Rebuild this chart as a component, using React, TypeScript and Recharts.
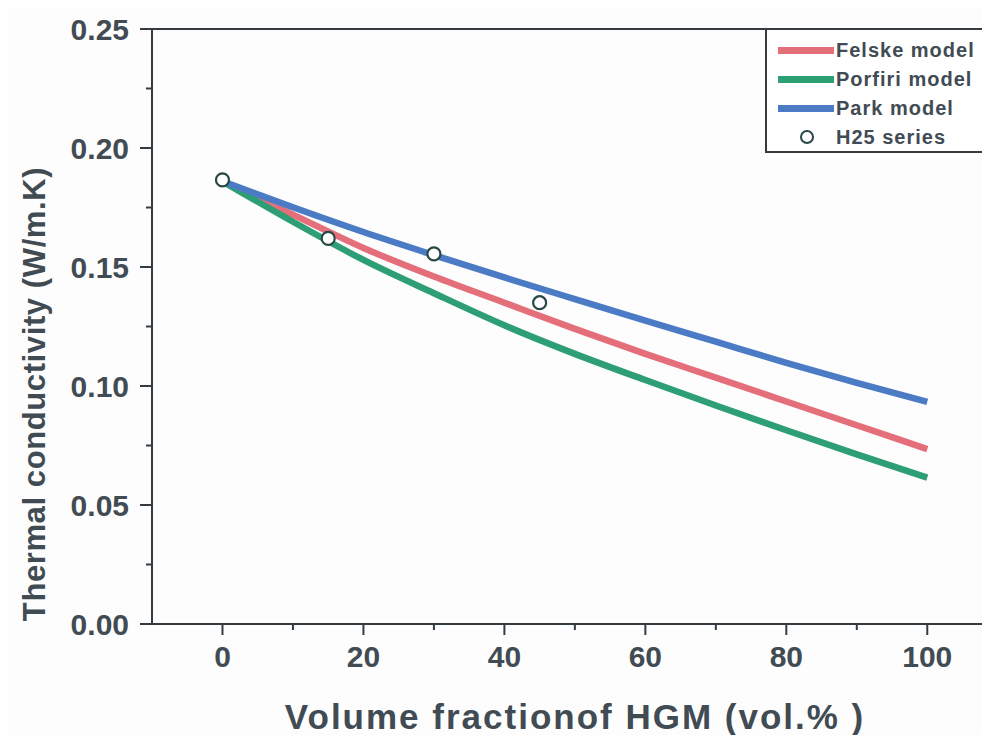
import { ComposedChart, Line, Scatter, XAxis, YAxis, ReferenceLine, Label } from "recharts"

// volume fraction of HGM (vol.%)
const fractions = [0, 10, 20, 30, 40, 50, 60, 70, 80, 90, 100]
const felske = [0.186, 0.172, 0.158, 0.146, 0.135, 0.124, 0.1135, 0.1035, 0.0935, 0.0835, 0.0735]
const porfiri = [0.186, 0.169, 0.153, 0.139, 0.1255, 0.1135, 0.1025, 0.0918, 0.0814, 0.0713, 0.0615]
const park = [0.186, 0.1751, 0.1647, 0.155, 0.1456, 0.1365, 0.1275, 0.1186, 0.1097, 0.1013, 0.0933]

// measured points
const h25Fractions = [0, 15, 30, 45]
const h25Values = [0.1866, 0.162, 0.1555, 0.135]

const xTicks = [0, 10, 20, 30, 40, 50, 60, 70, 80, 90, 100]
const xMajor = [0, 20, 40, 60, 80, 100]
const yTicks = [0, 0.025, 0.05, 0.075, 0.1, 0.125, 0.15, 0.175, 0.2, 0.225, 0.25]
const yMajor = [0, 0.05, 0.1, 0.15, 0.2, 0.25]

const series = [
  { key: "felske", name: "Felske model", color: "#e46f7b" },
  { key: "porfiri", name: "Porfiri model", color: "#2e9f74" },
  { key: "park", name: "Park model", color: "#4a7bc4" },
]

const modelRows = fractions.map((x, i) => ({ x, felske: felske[i], porfiri: porfiri[i], park: park[i] }))
const h25Rows = h25Fractions.map((x, i) => ({ x, h25: h25Values[i] }))

const axisColor = "#343c42"
const textColor = "#414b53"
const font = "'Liberation Sans', Arial, sans-serif"

const isMajor = (list: number[], v: number) => list.some((m) => Math.abs(m - v) < 1e-6)

function XTick({ x, y, payload }: any) {
  const major = isMajor(xMajor, payload.value)
  return (
    <g>
      <line x1={x} x2={x} y1={y} y2={y + (major ? 11 : 6)} stroke={axisColor} strokeWidth={2} />
      {major && (
        <text x={x} y={y + 32} textAnchor="middle" dominantBaseline="central" fontSize={30} fontWeight="bold" fill={textColor} fontFamily={font}>
          {payload.value}
        </text>
      )}
    </g>
  )
}

function YTick({ x, y, payload }: any) {
  const major = isMajor(yMajor, payload.value)
  return (
    <g>
      <line x1={x} x2={x - (major ? 12 : 6)} y1={y} y2={y} stroke={axisColor} strokeWidth={2} />
      {major && (
        <text x={x - 23} y={y} textAnchor="end" dominantBaseline="central" fontSize={30} fontWeight="bold" fill={textColor} fontFamily={font}>
          {payload.value.toFixed(2)}
        </text>
      )}
    </g>
  )
}

function Marker({ cx, cy }: any) {
  return <circle cx={cx} cy={cy} r={6.5} fill="#ffffff" stroke="#284844" strokeWidth={2.2} />
}

function ChartLegend() {
  return (
    <div
      style={{
        position: "absolute",
        left: 757,
        top: 20,
        width: 223,
        height: 121,
        border: `2px solid ${axisColor}`,
        borderRight: "none",
        background: "#fff",
        fontFamily: font,
        fontWeight: "bold",
        fontSize: 20,
        letterSpacing: 1,
        color: textColor,
        whiteSpace: "nowrap",
      }}
    >
      {series.map((s, i) => (
        <div key={s.key} style={{ position: "absolute", top: 8 + i * 29, left: 11, height: 24, display: "flex", alignItems: "center" }}>
          <div style={{ width: 56, height: 7, background: s.color, marginRight: 2 }} />
          <span>{s.name}</span>
        </div>
      ))}
      <div style={{ position: "absolute", top: 95, left: 11, height: 24, display: "flex", alignItems: "center" }}>
        <svg width={58} height={16}>
          <circle cx={29} cy={8} r={6} fill="#fff" stroke="#284844" strokeWidth={2} />
        </svg>
        <span>H25 series</span>
      </div>
    </div>
  )
}

export default function App() {
  return (
    <div style={{ position: "relative", width: 982, height: 727, overflow: "hidden", background: "#fdfdfd" }}>
      <ComposedChart width={982} height={727} data={modelRows} margin={{ top: 21, right: 0, left: 0, bottom: 0 }}>
        <XAxis
          dataKey="x"
          type="number"
          domain={[-10, 108.9]}
          allowDataOverflow
          ticks={xTicks}
          tick={<XTick />}
          tickLine={false}
          tickSize={0}
          tickMargin={0}
          height={111}
          axisLine={{ stroke: axisColor, strokeWidth: 2 }}
          interval={0}
        >
          <Label
            content={({ viewBox }: any) => (
              <text
                x={viewBox.x + viewBox.width / 2 + 4}
                y={viewBox.y + 105}
                textAnchor="middle"
                fontSize={35}
                fontWeight="bold"
                letterSpacing={2}
                fill={textColor}
                fontFamily={font}
              >
                Volume fractionof HGM (vol.% )
              </text>
            )}
          />
        </XAxis>
        <YAxis
          type="number"
          domain={[0, 0.25]}
          ticks={yTicks}
          tick={<YTick />}
          tickLine={false}
          tickSize={0}
          tickMargin={0}
          width={144}
          axisLine={{ stroke: axisColor, strokeWidth: 2 }}
          interval={0}
        >
          <Label
            content={({ viewBox }: any) => {
              const cx = viewBox.x + 26
              const cy = 386
              return (
                <text
                  x={cx}
                  y={cy}
                  transform={`rotate(-90 ${cx} ${cy})`}
                  textAnchor="middle"
                  dominantBaseline="central"
                  fontSize={31}
                  fontWeight="bold"
                  letterSpacing={0.6}
                  fill={textColor}
                  fontFamily={font}
                >
                  Thermal conductivity (W/m.K)
                </text>
              )
            }}
          />
        </YAxis>
        <ReferenceLine y={0.25} stroke={axisColor} strokeWidth={2} />
        {series.map((s) => (
          <Line
            key={s.key}
            type="monotone"
            dataKey={s.key}
            name={s.name}
            stroke={s.color}
            strokeWidth={6.5}
            dot={false}
            isAnimationActive={false}
          />
        ))}
        <Scatter data={h25Rows} dataKey="h25" name="H25 series" shape={<Marker />} isAnimationActive={false} />
      </ComposedChart>
      <ChartLegend />
    </div>
  )
}
